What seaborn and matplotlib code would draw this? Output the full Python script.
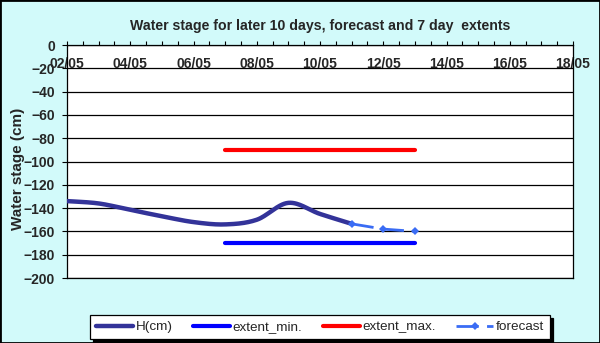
import numpy as np
import pandas as pd
import matplotlib
matplotlib.use("Agg")
import matplotlib.pyplot as plt
import seaborn as sns
from matplotlib.patches import Rectangle
from matplotlib.ticker import MultipleLocator, FixedLocator, FixedFormatter

# ---------------- data ----------------
title = "Water stage for later 10 days, forecast and 7 day  extents"
y_label = "Water stage (cm)"
h_dates = ["02/05", "03/05", "04/05", "05/05", "06/05", "07/05", "08/05", "09/05", "10/05", "11/05"]
h_values = [-134, -136, -141.5, -147, -152, -154, -150, -135.5, -145, -153.5]
fc_dates = ["11/05", "12/05", "13/05"]
fc_values = [-153.5, -158, -160]
ext_dates = ["07/05", "13/05"]
ext_min = [-170, -170]
ext_max = [-90, -90]
x_tick_labels = ["02/05", "04/05", "06/05", "08/05", "10/05", "12/05", "14/05", "16/05", "18/05"]
y_ticks = list(range(0, -201, -20))
series_names = ["H(cm)", "extent_min.", "extent_max.", "forecast"]


def day(s):
    return int(s.split("/")[0])


def catmull_rom(x, y, n=30):
    x = np.asarray(x, float)
    y = np.asarray(y, float)
    px = np.concatenate([[x[0]], x, [x[-1]]])
    py = np.concatenate([[y[0]], y, [y[-1]]])
    xs, ys = [], []
    for i in range(1, len(px) - 2):
        p0, p1, p2, p3 = (np.array([px[j], py[j]]) for j in (i - 1, i, i + 1, i + 2))
        c1 = p1 + (p2 - p0) / 6.0
        c2 = p2 - (p3 - p1) / 6.0
        t = np.linspace(0, 1, n, endpoint=(i == len(px) - 3))[:, None]
        pts = (1 - t) ** 3 * p1 + 3 * (1 - t) ** 2 * t * c1 + 3 * (1 - t) * t ** 2 * c2 + t ** 3 * p2
        xs.append(pts[:, 0])
        ys.append(pts[:, 1])
    return np.concatenate(xs), np.concatenate(ys)


hx, hy = catmull_rom([day(d) for d in h_dates], h_values)
df_h = pd.DataFrame({"x": hx, "y": hy})
df_fc = pd.DataFrame({"x": [day(d) for d in fc_dates], "y": fc_values})
df_min = pd.DataFrame({"x": [day(d) for d in ext_dates], "y": ext_min})
df_max = pd.DataFrame({"x": [day(d) for d in ext_dates], "y": ext_max})

# ---------------- figure ----------------
sns.set_theme(style="white")
plt.rcParams["font.family"] = ["Liberation Sans", "DejaVu Sans"]

bg = "#d2fafa"
fig = plt.figure(figsize=(6.0, 3.43), dpi=100, facecolor=bg)
L, R, T, B = 67, 573, 45, 278
ax = fig.add_axes([L / 600, 1 - B / 343, (R - L) / 600, (B - T) / 343])
ax.set_facecolor("white")

c_h, c_min, c_max, c_fc = "#333399", "#0000ff", "#ff0000", "#3a6cf4"

sns.lineplot(data=df_h, x="x", y="y", ax=ax, color=c_h, lw=3.2, sort=False,
             estimator=None, label=series_names[0], solid_capstyle="round", zorder=4)
sns.lineplot(data=df_min, x="x", y="y", ax=ax, color=c_min, lw=3.0,
             estimator=None, label=series_names[1], solid_capstyle="round", zorder=4)
sns.lineplot(data=df_max, x="x", y="y", ax=ax, color=c_max, lw=3.0,
             estimator=None, label=series_names[2], solid_capstyle="round", zorder=4)
sns.lineplot(data=df_fc, x="x", y="y", ax=ax, color=c_fc, lw=2.0, estimator=None,
             label=series_names[3], marker="D", markersize=4.5, markeredgewidth=0,
             linestyle=(0, (8, 3)), zorder=5)

ax.set_xlim(2, 18)
ax.set_ylim(-200, 0)

# grid
ax.yaxis.set_major_locator(FixedLocator(y_ticks))
ax.grid(axis="y", color="black", lw=0.9)
ax.grid(axis="x", visible=False)
for s in ax.spines.values():
    s.set_visible(True)
    s.set_color("black")
    s.set_linewidth(0.9)

# x ticks on top, labels inside
ax.xaxis.set_major_locator(FixedLocator([day(d) for d in x_tick_labels]))
ax.xaxis.set_major_formatter(FixedFormatter(x_tick_labels))
ax.xaxis.set_minor_locator(MultipleLocator(0.5))
ax.tick_params(axis="x", which="both", bottom=False, labelbottom=False, top=True,
               labeltop=True, direction="out", length=3, width=0.8, color="black")
ax.tick_params(axis="x", which="major", pad=-21.5, labelsize=10)
for lab in ax.get_xticklabels():
    lab.set_fontweight("bold")
ax.tick_params(axis="y", which="major", left=True, direction="out", length=3.5,
               width=0.8, color="black", pad=5, labelsize=10)
for lab in ax.get_yticklabels():
    lab.set_fontweight("bold")

ax.set_xlabel("")
ax.set_ylabel(y_label, fontsize=11, fontweight="bold", va="center")
ax.yaxis.set_label_coords((18 - L) / (R - L), 0.468)

fig.text(320 / 600, 1 - 26 / 343, title, ha="center", va="center",
         fontsize=10.2, fontweight="bold")

handles, labels = ax.get_legend_handles_labels()
ax.get_legend().remove()
leg = fig.legend(handles, labels, loc="center", bbox_to_anchor=(320 / 600, 1 - 327 / 343),
                 ncol=4, frameon=True, fancybox=False, edgecolor="black",
                 framealpha=1, fontsize=9.7, handlelength=2.75, handletextpad=0.2,
                 columnspacing=1.5, borderpad=0.45,
                 shadow={"color": "black", "alpha": 1})
leg.get_frame().set_linewidth(0.9)

fig.patches.append(Rectangle((0, 0), 1, 1, transform=fig.transFigure, fill=False,
                             edgecolor="black", lw=2.0, zorder=10))

fig.savefig("out.png", dpi=100, facecolor=bg)
